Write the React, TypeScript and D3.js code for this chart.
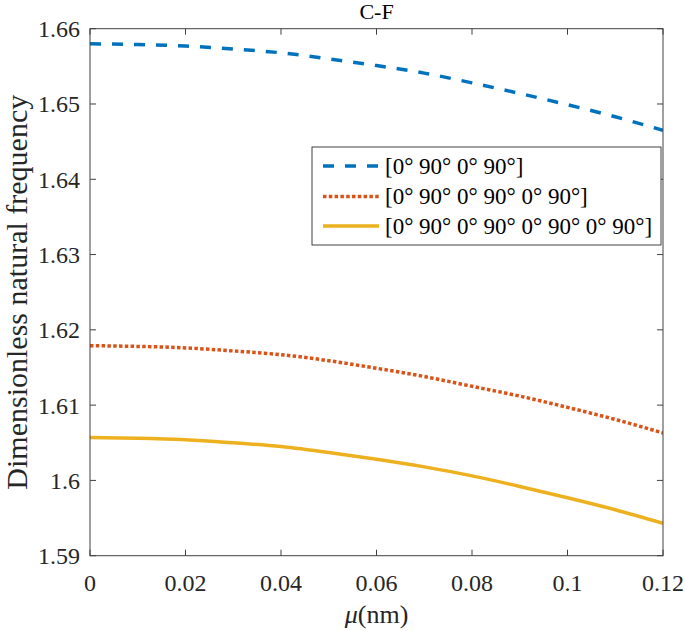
import React from "react";
import * as d3 from "d3";

const muValues = [0, 0.01, 0.02, 0.03, 0.04, 0.05, 0.06, 0.07, 0.08, 0.09, 0.1, 0.11, 0.12];
const series4 = [1.658, 1.6579, 1.6577, 1.6573, 1.6568, 1.656, 1.6551, 1.6541, 1.6528, 1.6514, 1.6499, 1.6483, 1.6465];
const series6 = [1.6179, 1.6178, 1.6176, 1.6172, 1.6167, 1.6159, 1.6149, 1.6138, 1.6125, 1.6112, 1.6097, 1.6081, 1.6063];
const series8 = [1.6057, 1.6056, 1.6054, 1.605, 1.6045, 1.6037, 1.6028, 1.6018, 1.6006, 1.5992, 1.5977, 1.5961, 1.5943];
const seriesLabels = [
  "[0° 90° 0° 90°]",
  "[0° 90° 0° 90° 0° 90°]",
  "[0° 90° 0° 90° 0° 90° 0° 90°]",
];
const xTicks = [0, 0.02, 0.04, 0.06, 0.08, 0.1, 0.12];
const yTicks = [1.59, 1.6, 1.61, 1.62, 1.63, 1.64, 1.65, 1.66];
const title = "C-F";
const yLabel = "Dimensionless natural frequency";

const W = 685;
const H = 631;
const M = { left: 90, right: 663, top: 28.7, bottom: 555.7 };
const FONT = "'Liberation Serif', 'Times New Roman', serif";

export default function App() {
  const x = d3.scaleLinear().domain([0, 0.12]).range([M.left, M.right]);
  const y = d3.scaleLinear().domain([1.59, 1.66]).range([M.bottom, M.top]);
  const line = d3
    .line<number>()
    .x((_, i) => x(muValues[i]))
    .y((d) => y(d))
    .curve(d3.curveNatural);

  const styles = [
    { color: "#0072BD", dash: "11 11", width: 3.5 },
    { color: "#D95319", dash: "3.5 2.3", width: 3.5 },
    { color: "#EDB120", dash: "none", width: 3.5 },
  ];
  const data = [series4, series6, series8];
  const axisColor = "#404040";
  const tickLen = 6;

  const lg = { x0: 312, y0: 147, x1: 661, y1: 245 };
  const rowY = [166, 196.5, 226];

  return (
    <svg
      width={W}
      height={H}
      style={{ position: "absolute", left: 0, top: 0, background: "#fff", fontFamily: FONT }}
    >
      <rect x={0} y={0} width={W} height={H} fill="#fff" />
      <defs>
        <clipPath id="plotclip">
          <rect x={M.left} y={M.top} width={M.right - M.left} height={M.bottom - M.top} />
        </clipPath>
      </defs>
      <g clipPath="url(#plotclip)">
        {data.map((s, i) => (
          <path
            key={i}
            d={line(s) || ""}
            fill="none"
            stroke={styles[i].color}
            strokeWidth={styles[i].width}
            strokeDasharray={styles[i].dash}
          />
        ))}
      </g>
      <rect
        x={M.left}
        y={M.top}
        width={M.right - M.left}
        height={M.bottom - M.top}
        fill="none"
        stroke={axisColor}
        strokeWidth={1}
      />
      {xTicks.map((t) => (
        <g key={"x" + t}>
          <line x1={x(t)} x2={x(t)} y1={M.bottom} y2={M.bottom - tickLen} stroke={axisColor} />
          <line x1={x(t)} x2={x(t)} y1={M.top} y2={M.top + tickLen} stroke={axisColor} />
          <text x={x(t)} y={591} fontSize={24} textAnchor="middle" fill="#262626">
            {String(t)}
          </text>
        </g>
      ))}
      {yTicks.map((t) => (
        <g key={"y" + t}>
          <line x1={M.left} x2={M.left + tickLen} y1={y(t)} y2={y(t)} stroke={axisColor} />
          <line x1={M.right} x2={M.right - tickLen} y1={y(t)} y2={y(t)} stroke={axisColor} />
          <text x={80} y={y(t) + 8.5} fontSize={24} textAnchor="end" fill="#262626">
            {t === 1.6 ? "1.6" : t.toFixed(2)}
          </text>
        </g>
      ))}
      <text x={(M.left + M.right) / 2} y={19} fontSize={22} textAnchor="middle" fill="#000">
        {title}
      </text>
      <text x={(M.left + M.right) / 2} y={623} fontSize={26} textAnchor="middle" fill="#262626">
        <tspan fontStyle="italic">μ</tspan>
        <tspan>(nm)</tspan>
      </text>
      <text
        transform={`translate(27, ${(M.top + M.bottom) / 2}) rotate(-90)`}
        fontSize={30}
        textAnchor="middle"
        fill="#262626"
      >
        {yLabel}
      </text>
      <rect
        x={lg.x0}
        y={lg.y0}
        width={lg.x1 - lg.x0}
        height={lg.y1 - lg.y0}
        fill="#fff"
        stroke="#404040"
        strokeWidth={1}
      />
      {seriesLabels.map((lab, i) => (
        <g key={lab}>
          <line
            x1={323}
            x2={379}
            y1={rowY[i]}
            y2={rowY[i]}
            stroke={styles[i].color}
            strokeWidth={styles[i].width}
            strokeDasharray={styles[i].dash}
          />
          <text x={385} y={rowY[i] + 7.5} fontSize={23} fill="#000">
            {lab}
          </text>
        </g>
      ))}
    </svg>
  );
}
